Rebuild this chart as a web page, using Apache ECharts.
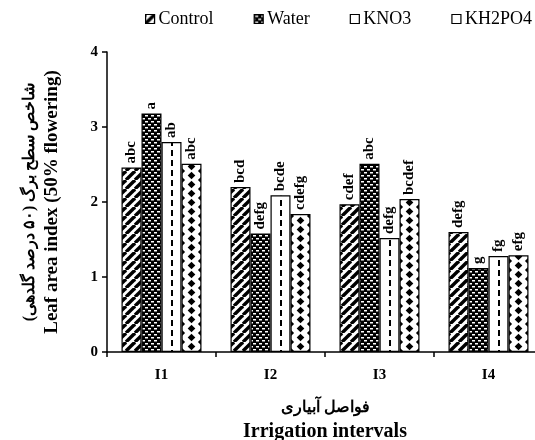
<!DOCTYPE html>
<html><head><meta charset="utf-8">
<script src="https://cdn.jsdelivr.net/npm/echarts@6/dist/echarts.min.js"></script>
<style>html,body{margin:0;padding:0;background:#fff}#c{width:535px;height:440px}</style>
</head><body><div id="c"></div>
<script>
const categories = ['I1', 'I2', 'I3', 'I4'];
const seriesNames = ['Control', 'Water', 'KNO3', 'KH2PO4'];
const controlValues = [2.46, 2.20, 1.97, 1.60];
const waterValues = [3.18, 1.58, 2.51, 1.12];
const kno3Values = [2.80, 2.09, 1.52, 1.28];
const kh2po4Values = [2.51, 1.84, 2.04, 1.29];
const controlLetters = ['abc', 'bcd', 'cdef', 'defg'];
const waterLetters = ['a', 'defg', 'abc', 'g'];
const kno3Letters = ['ab', 'bcde', 'defg', 'fg'];
const kh2po4Letters = ['abc', 'cdefg', 'bcdef', 'efg'];
const yTickMin = 0, yTickMax = 4, yTickStep = 1;
const yTitleFa = 'شاخص سطح برگ (۵۰ درصد گلدهی)';
const yTitleEn = 'Leaf area index (50% flowering)';
const xTitleFa = 'فواصل آبیاری';
const xTitleEn = 'Irrigation intervals';

const SERIF = '"Liberation Serif", "Times New Roman", "DejaVu Serif", serif';

function makeCanvas(w, h, draw) {
  const c = document.createElement('canvas');
  c.width = w; c.height = h;
  const g = c.getContext('2d');
  g.fillStyle = '#fff'; g.fillRect(0, 0, w, h);
  draw(g);
  return c;
}
function stripePattern() {
  const s = 9;
  return makeCanvas(s, s, g => {
    g.strokeStyle = '#000'; g.lineWidth = 3.4;
    for (const o of [-s, 0, s]) {
      g.beginPath(); g.moveTo(o, s); g.lineTo(o + s, 0); g.stroke();
    }
  });
}
function brickPattern() {
  return makeCanvas(6, 6, g => {
    g.fillStyle = '#000'; g.fillRect(0, 0, 6, 6);
    g.fillStyle = '#fff';
    g.fillRect(1, 1, 3, 1.5);
    g.fillRect(4, 4, 2, 1.5);
    g.fillRect(0, 4, 1, 1.5);
  });
}
function dashPattern(W, cx) {
  return makeCanvas(W, 10, g => {
    g.fillStyle = '#000';
    g.fillRect(Math.round(cx) - 1, 0, 2, 6);
  });
}
function diamondPattern(W, cx) {
  const h = 9;
  return makeCanvas(W, h, g => {
    g.fillStyle = '#000';
    const dia = (x, y, r) => {
      g.beginPath();
      g.moveTo(x, y - r); g.lineTo(x + r, y); g.lineTo(x, y + r); g.lineTo(x - r, y); g.closePath(); g.fill();
    };
    dia(cx, h / 2, 3.8);
    for (const dx of [-10, 10]) {
      dia(cx + dx, 0, 3.6);
      dia(cx + dx, h, 3.6);
    }
  });
}

const chart = echarts.init(document.getElementById('c'), null, { renderer: 'canvas' });

function buildOption(fills) {
  const valueSets = [controlValues, waterValues, kno3Values, kh2po4Values];
  const letterSets = [controlLetters, waterLetters, kno3Letters, kh2po4Letters];
  const legendFills = [
    { image: stripePattern(), repeat: 'repeat' },
    { image: brickPattern(), repeat: 'repeat' },
    '#fff', '#fff'
  ];
  return {
    animation: false,
    backgroundColor: '#fff',
    grid: { left: 107, right: -8, top: 52, bottom: 88, containLabel: false, outerBoundsMode: 'none' },
    legend: {
      top: 10, left: 145, width: 400, padding: 0,
      itemGap: 40, itemWidth: 9, itemHeight: 9,
      icon: 'rect',
      textStyle: { fontFamily: SERIF, fontSize: 18, color: '#000', padding: [0, 0, 0, -1] },
      data: seriesNames.map((n, i) => ({
        name: n,
        itemStyle: { color: legendFills[i], borderColor: '#000', borderWidth: 1.2 }
      }))
    },
    xAxis: {
      type: 'category',
      data: categories,
      boundaryGap: true,
      axisLine: { lineStyle: { color: '#000', width: 1.5 } },
      axisTick: { show: true, length: 5, inside: false, lineStyle: { color: '#000', width: 1.5 } },
      axisLabel: { margin: 16, fontFamily: SERIF, fontWeight: 'bold', fontSize: 15, color: '#000' },
      name: '{fa|' + xTitleFa + '}\n{en|' + xTitleEn + '}',
      nameLocation: 'middle',
      nameGap: 45,
      nameTextStyle: {
        color: '#000',
        rich: {
          fa: { fontFamily: SERIF, fontWeight: 'bold', fontSize: 16, lineHeight: 22, color: '#000' },
          en: { fontFamily: SERIF, fontWeight: 'bold', fontSize: 20, lineHeight: 26, color: '#000' }
        }
      }
    },
    yAxis: {
      type: 'value',
      min: yTickMin, max: yTickMax, interval: yTickStep,
      axisLine: { show: true, lineStyle: { color: '#000', width: 1.5 } },
      axisTick: { show: true, length: 5, lineStyle: { color: '#000', width: 1.5 } },
      splitLine: { show: false },
      axisLabel: { margin: 9, fontFamily: SERIF, fontWeight: 'bold', fontSize: 15, color: '#000' },
      name: '{fa|' + yTitleFa + '}\n{en|' + yTitleEn + '}',
      nameLocation: 'middle',
      nameRotate: 90,
      nameGap: 43,
      nameTextStyle: {
        color: '#000',
        rich: {
          fa: { fontFamily: SERIF, fontWeight: 'bold', fontSize: 16, lineHeight: 20, color: '#000' },
          en: { fontFamily: SERIF, fontWeight: 'bold', fontSize: 19, lineHeight: 24, color: '#000' }
        }
      }
    },
    series: seriesNames.map((n, i) => ({
      name: n,
      type: 'bar',
      data: valueSets[i],
      barWidth: 20,
      barGap: '0%',
      itemStyle: { color: fills[i], borderColor: '#000', borderWidth: 1.2 },
      emphasis: { disabled: true },
      label: {
        show: true,
        position: 'top',
        rotate: 90,
        align: 'left',
        verticalAlign: 'middle',
        distance: 4,
        fontFamily: SERIF,
        fontWeight: 'bold',
        fontSize: 15,
        color: '#000',
        formatter: p => letterSets[i][p.dataIndex]
      }
    }))
  };
}

chart.setOption(buildOption(['#fff', '#000', '#fff', '#fff']));
const p1 = chart.convertToPixel({ xAxisIndex: 0 }, categories[0]);
const p2 = chart.convertToPixel({ xAxisIndex: 0 }, categories[1]);
const W = Math.round(p2 - p1);
const mod = v => ((v % W) + W) % W;
const fills = [
  { image: stripePattern(), repeat: 'repeat' },
  { image: brickPattern(), repeat: 'repeat' },
  { image: dashPattern(W, mod(p1 + 10)), repeat: 'repeat' },
  { image: diamondPattern(W, mod(p1 + 30)), repeat: 'repeat' }
];
chart.setOption(buildOption(fills), true);
</script>
</body></html>
